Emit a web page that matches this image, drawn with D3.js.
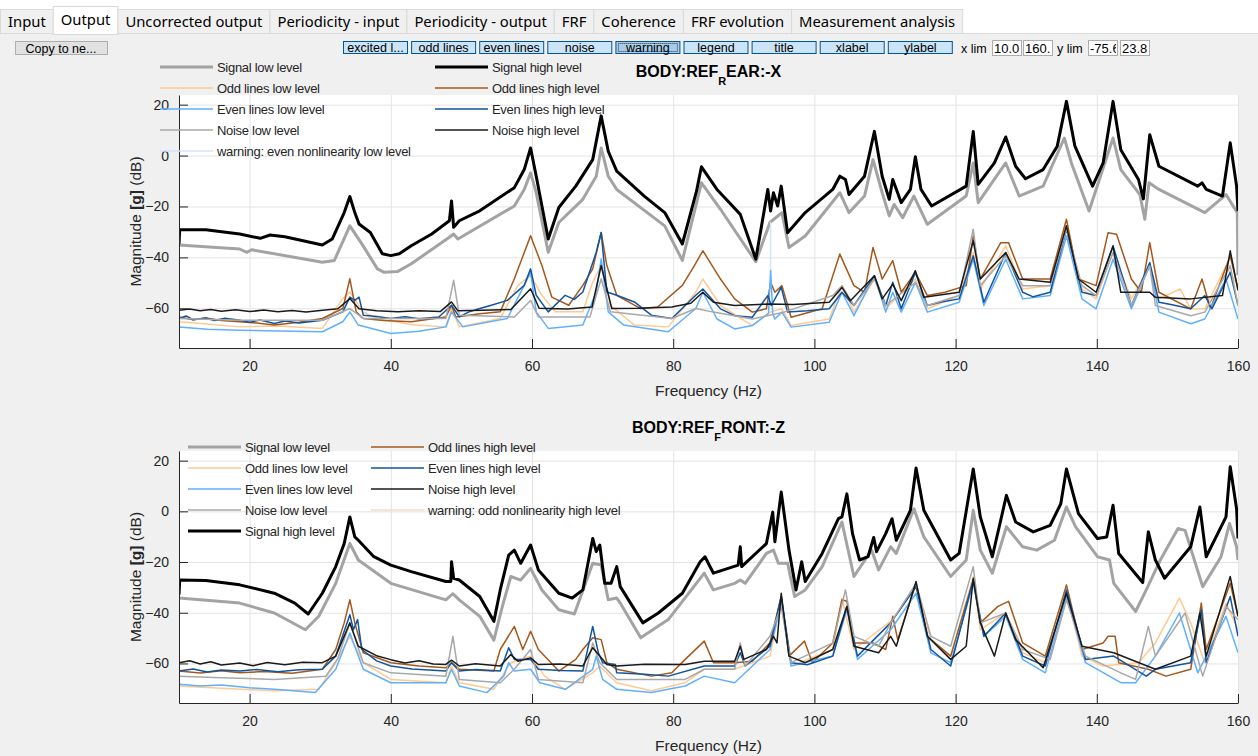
<!DOCTYPE html>
<html>
<head>
<meta charset="utf-8">
<script src="https://cdn.jsdelivr.net/npm/d3@7"></script>
<style>
  body { margin: 0; background: #f0f0f0; }
  svg text { font-family: 'Liberation Sans', Arial, Helvetica, sans-serif; }
</style>
</head>
<body>
<script>
// ---------- data ----------
const tabNames = ['Input', 'Output', 'Uncorrected output', 'Periodicity - input', 'Periodicity - output',
  'FRF', 'Coherence', 'FRF evolution', 'Measurement analysis'];
const toggleLabels = ['excited l...', 'odd lines', 'even lines', 'noise', 'warning', 'legend', 'title', 'xlabel', 'ylabel'];
const limLabels = ['10.0', '160.', '-75.6', '23.8'];
const freqTicks = [20, 40, 60, 80, 100, 120, 140, 160];
const magTicks = [-60, -40, -20, 0, 20];
const freqRange = [10, 160];
const magRange = [-75.6, 23.8];

// BODY:REF_REAR:-X  (frequency Hz, magnitude dB)
const rearSignalLow = [[10,-35.1],[18.6,-36.7],[19.6,-38.0],[20.3,-37.0],[30.3,-41.9],[32.0,-41.2],[34.2,-27.6],[35.9,-34.7],[38.1,-44.5],[39.0,-45.8],[41.0,-45.5],[42.9,-42.5],[48.3,-32.1],[48.9,-30.8],[49.5,-32.8],[57.5,-19.8],[58.9,-13.3],[59.8,-6.8],[60.6,-14.6],[62.3,-38.0],[63.8,-26.3],[67.2,-17.2],[69.1,-8.1],[69.8,3.0],[70.8,-8.1],[72.0,-13.3],[78.8,-27.6],[81.3,-41.2],[84.0,-10.7],[86.7,-21.1],[91.7,-41.7],[93.7,-26.3],[95.4,-22.4],[96.4,-36.1],[98.7,-31.6],[103.6,-14.6],[104.9,-22.4],[107.1,-15.9],[108.3,-1.6],[109.6,-14.6],[110.6,-23.7],[111.3,-19.2],[112.5,-24.4],[114.1,-15.9],[116.0,-27.0],[121.5,-15.9],[122.5,-2.9],[123.2,-18.5],[127.1,-2.9],[129.0,-15.9],[132.4,-12.0],[135.4,6.9],[136.4,-2.9],[138.9,-21.8],[142.3,6.9],[143.4,-5.5],[146.1,-15.3],[146.8,-25.0],[147.4,-10.7],[148.8,-13.3],[155.3,-22.4],[158.3,-15.3],[159.9,-22.4],[160,-47]];
const rearSignalHigh = [[10,-34.7],[10.1,-29.1],[13.8,-29.1],[18.6,-30.8],[21.5,-32.5],[22.9,-31.2],[25,-31.9],[30.3,-35.1],[31.7,-32.8],[33.4,-22.4],[34.2,-16.1],[34.9,-22.4],[35.5,-26.9],[37.1,-30.2],[38.8,-38.6],[40,-39.3],[41.2,-38.6],[42.9,-35.4],[45.8,-30.8],[48.3,-25.6],[48.6,-17.8],[48.9,-28.2],[49.7,-25.6],[52.6,-21.7],[57.5,-12.6],[58.9,-5.5],[59.8,3.0],[60.6,-8.1],[62.3,-32.8],[63.8,-20.4],[66.2,-12.0],[68.6,-1.6],[69.8,15.6],[70.8,1.7],[72.0,-6.1],[75.9,-15.9],[78.8,-22.4],[81.3,-34.7],[83.3,-14],[84.0,-4.4],[86.2,-13.3],[88.2,-19.2],[89.5,-23.1],[91.7,-40.7],[93.4,-13.3],[93.8,-21.8],[94.2,-14.6],[94.8,-19.8],[95.3,-12.0],[96.2,-30.3],[98.7,-22.4],[102.6,-13.3],[103.6,-8.1],[104.4,-9.4],[104.9,-15.3],[107.1,-8.1],[108.5,9.5],[109.6,-8.1],[110.6,-17.2],[111.1,-9.4],[112.3,-18.5],[113.6,-13.3],[114.3,-0.5],[115.1,-13.3],[116.6,-19.8],[121.5,-12.0],[122.5,9.5],[123.2,-11.3],[125.5,-2.9],[127.1,7.3],[128.5,-4.2],[129.9,-9.1],[132.4,-5.5],[134.4,3.7],[135.7,21.3],[136.9,3.7],[139.4,-12.0],[140.9,-2.9],[142.3,21.3],[143.4,2.3],[145.9,-9.4],[146.6,-17.0],[147.5,8.2],[148.8,-4.2],[154.3,-12.0],[154.9,-10.7],[155.5,-13.3],[157.8,-15.9],[158.9,5.0],[159.8,-12.0],[160,-21.8]];
const rearOddLow = [[10,-65.3],[14,-66.2],[18.6,-67.3],[24,-67.0],[30.3,-67.9],[33.2,-56.2],[34.2,-53.6],[36.1,-61.4],[38.1,-64],[43,-66.5],[47.8,-67.3],[48.6,-60.1],[49.7,-67.3],[55.5,-64],[58,-51],[59.8,-47.1],[61.4,-54.9],[63.3,-61.4],[67.2,-61.4],[68.6,-49.7],[69.8,-43.2],[71.1,-58.8],[74.5,-66.6],[79.3,-67.3],[83.2,-53.6],[84.2,-48.5],[86.7,-58.9],[91.2,-66.8],[93.7,-61.5],[95.4,-60.2],[96.7,-66.8],[102.1,-64.2],[103.9,-51.1],[105.6,-61.5],[108.5,-48.5],[110.1,-60.2],[114.3,-48.5],[116.0,-60.2],[120.5,-55],[122.5,-38.1],[123.5,-52.4],[127.1,-35.5],[129.5,-52.4],[133.4,-51.1],[135.7,-27.6],[137.9,-52.4],[139.9,-56.3],[142.3,-38.1],[144.9,-56.3],[147.5,-43.3],[148.8,-56.3],[151.8,-52.4],[153.3,-60.2],[155.3,-60.2],[158.3,-43.3],[160,-51.1]];
const rearOddHigh = [[10,-63.4],[12,-64.5],[13.8,-63.8],[16,-64.8],[18.6,-65.3],[21,-65.8],[23.5,-66.6],[27,-65.5],[30.3,-64],[33.2,-60.1],[34.2,-48.4],[35.1,-61.4],[36.1,-64],[39,-64.8],[42.9,-65.3],[47.8,-63.4],[48.6,-58.8],[49.2,-63.4],[52.6,-62.1],[55.5,-61.4],[57.5,-48.4],[59.8,-31.5],[61.4,-43.2],[62.8,-55.6],[65.2,-58.8],[67.2,-51],[68.6,-44.5],[69.8,-30.2],[70.6,-43.2],[72.0,-54.9],[75.4,-60.1],[77.8,-59.5],[81.3,-51],[83.0,-43.2],[84.2,-37.4],[86.7,-48.5],[88.7,-56.3],[91.2,-61.5],[93.2,-60.2],[93.8,-49.8],[94.4,-53.7],[95.4,-51.1],[96.7,-63.5],[101.1,-60.2],[103.6,-38.7],[105.6,-51.1],[107.1,-53.7],[108.3,-36.1],[109.6,-48.5],[111.1,-41.3],[112.3,-53.7],[114.3,-45.9],[116.0,-55],[118.5,-53.7],[121.5,-51.1],[122.5,-31.6],[123.5,-48.5],[126.4,-34.2],[127.5,-34.2],[129.5,-48.5],[133.4,-48.5],[135.7,-25.0],[137.4,-48.5],[139.9,-51.1],[141.6,-30.3],[142.8,-30.9],[144.9,-48.5],[146.3,-53.7],[147.5,-34.2],[148.8,-53.7],[153.3,-60.2],[154.9,-48.5],[156.1,-60.2],[158.9,-39.4],[160,-52.4]];
const rearEvenLow = [[10,-67.3],[14,-68.2],[18.6,-68.6],[24,-68.9],[30.3,-69.2],[33.2,-65.3],[34.2,-61.4],[35.4,-66.6],[40,-69.9],[44,-69.0],[47.8,-67.3],[48.6,-61.4],[50.2,-67.3],[56.5,-64],[58.9,-51],[59.8,-45.8],[60.6,-61.4],[62.3,-67.9],[67.2,-66.6],[69.1,-53.6],[69.8,-40.6],[70.8,-61.4],[73,-66.6],[79.3,-69.2],[83.2,-60.1],[84.2,-53.7],[86.2,-64.2],[88.7,-68.1],[91.2,-66.8],[93.5,-62],[93.8,-45],[94.1,-62],[94.4,-64.2],[95.4,-61.5],[96.7,-67.4],[102.1,-65.5],[103.9,-53.7],[105.6,-62.9],[108.5,-47.2],[110.1,-61.5],[111.1,-53.7],[112.3,-61.5],[114.3,-49.8],[116.0,-61.5],[120.5,-57.6],[122.5,-40.7],[124,-58.9],[127.1,-40.7],[129.5,-56.3],[133.4,-55],[135.7,-31.6],[137.9,-56.3],[139.9,-60.2],[142.3,-40.7],[144.9,-60.2],[147.5,-43.3],[148.8,-61.5],[153.3,-66.1],[155.3,-64.2],[158.3,-48.5],[160,-64.2]];
const rearEvenHigh = [[10,-64],[11,-63],[12,-64.5],[13.8,-63.8],[15,-64.8],[16.5,-63.9],[18.6,-64.7],[20,-65.5],[21.5,-64.6],[23.5,-66],[25,-65],[27,-65.8],[30.3,-64.7],[33.2,-61.4],[34.2,-55.6],[34.9,-56.9],[35.5,-55.6],[36.1,-62.7],[38,-63.2],[40,-64],[42,-63.3],[44,-64.1],[46.8,-63.4],[48.6,-58.8],[49.7,-63.4],[51,-61.5],[52.6,-60.1],[54,-59.0],[56.5,-56.9],[58.9,-51],[59.8,-44.5],[60.6,-54.9],[62.3,-61.4],[64.7,-54.9],[66,-56.5],[67.2,-53.6],[69.1,-38],[69.8,-30.2],[70.6,-53.6],[72,-54.9],[74.5,-57.5],[76.9,-62.7],[79.8,-64],[83.2,-54.9],[84.2,-52.4],[86.7,-60.2],[88.7,-62.9],[91.2,-63.5],[93.4,-55],[93.9,-58.9],[95.3,-51.8],[96.2,-61.5],[99,-61],[102.1,-60.2],[103.9,-53.7],[105.6,-58.9],[108.5,-47.2],[110.1,-58.9],[111.1,-49.8],[112.3,-60.2],[114.3,-45.9],[116.0,-58.9],[118,-57.5],[120.5,-56.3],[122.5,-39.4],[124,-57.6],[127.1,-38.1],[129.5,-53.7],[131,-55.5],[133.4,-53.7],[135.7,-28.9],[137.9,-53.7],[139.9,-55],[142.3,-35.5],[144.9,-58.9],[147.5,-42],[148.8,-57.6],[150.5,-58.5],[153.3,-60.2],[155.3,-55],[156.3,-60.2],[158.9,-45.9],[160,-58.9]];
const rearNoiseLow = [[10,-64],[18.6,-64.7],[30.3,-64.7],[34.2,-60.1],[36.1,-64],[47.8,-64],[48.9,-49],[49.7,-62.7],[57.5,-63.4],[59.8,-56.9],[60.9,-63.4],[68.2,-63.4],[69.8,-48.4],[71.1,-61.4],[79.8,-64],[83.2,-60.1],[85.7,-61.5],[91.2,-64.2],[95.7,-61.5],[102.6,-55],[103.9,-51.1],[105.6,-58.9],[108.5,-48.5],[110.1,-58.9],[114.3,-49.8],[116.0,-58.9],[120.5,-55],[122.5,-28.9],[123.5,-51.1],[127.1,-39.4],[129.5,-51.1],[133.4,-51.1],[135.7,-28.9],[137.9,-51.1],[139.9,-55],[142.3,-38.1],[144.9,-58.9],[147.5,-43.3],[148.3,-58.9],[153.3,-62.9],[155.3,-61.5],[158.9,-43.3],[160,-58.9]];
const rearNoiseHigh = [[10,-60.8],[11.5,-60.3],[13,-61],[14.5,-60.5],[16,-61.2],[18,-60.6],[20,-61.3],[22,-60.7],[24,-61.4],[26,-60.9],[28,-61.5],[30,-60.9],[32.5,-60.2],[34.2,-56.2],[35.5,-60.2],[38,-61],[41,-61.4],[44,-61],[47,-61.3],[48.6,-57.5],[49.5,-61],[53,-60.8],[57,-60.5],[59.8,-52.3],[61,-60],[65,-60.3],[68.5,-59.5],[69.8,-43.2],[71.3,-60.1],[75,-60],[79.8,-59.5],[82.5,-58],[84.2,-53.7],[85.7,-57.6],[88.7,-58.9],[93.7,-58.3],[97,-58.5],[102.1,-57.6],[103.9,-51.8],[105.1,-57],[108.5,-47.2],[109.6,-56.3],[111.1,-50.5],[112.3,-57],[114.3,-45.2],[115.5,-55.7],[120.5,-53.7],[122.5,-33.5],[123.5,-48.5],[127.1,-38.1],[129.0,-48.5],[133.4,-49.8],[135.7,-27.6],[137.4,-48.5],[139.9,-53.7],[142.3,-35.5],[143.4,-53.7],[147.5,-53.7],[148.3,-55.7],[153.3,-56.3],[157.8,-55],[158.9,-37.4],[160,-53]];
const rearWarningEvenLow = [[93.8,-45],[93.8,-26]];

// BODY:REF_FRONT:-Z
const frontSignalLow = [[10,-34.2],[18.6,-36.2],[23.5,-40.1],[27.9,-46.7],[29.8,-41.4],[32.2,-28.4],[34.2,-12.7],[35.4,-19.2],[40,-28.4],[47.8,-34.9],[48.8,-32.5],[49.7,-34.9],[52.6,-41.4],[54.6,-50.8],[55.8,-37.5],[57,-25.7],[58.4,-27.1],[59.8,-22.5],[61.4,-31],[63.8,-38.8],[66,-40.5],[68.6,-20.5],[69.8,-21.2],[70.8,-34.9],[72,-34.2],[72.5,-36.2],[75.4,-49.9],[79.3,-42.7],[84.4,-24.4],[85.7,-31],[88.7,-28.4],[89.5,-27.1],[90.2,-28.4],[93.2,-16.6],[94.2,-15.3],[94.9,-20.5],[96.2,-20.5],[97.2,-33.6],[98.7,-31],[101.1,-21.8],[103.9,-4.2],[105.6,-25.7],[108.1,-15.3],[109.1,-23.1],[110.8,-14],[111.6,-16.6],[114.1,1.0],[115.5,-10.1],[119.3,-25.7],[121.5,-19.2],[122.5,0.4],[123.5,-15.3],[125.2,-24.4],[127.2,-6.1],[129.5,-14],[131.5,-15.3],[134,-11.4],[135.7,1.7],[137,-6.1],[140.1,-17.9],[141.8,-19.2],[142.4,-28.4],[145.5,-39.5],[147,-31],[149,-19.2],[151.5,-6.8],[152.5,-7.5],[155,-29.7],[157.6,-17.9],[158.8,-4.8],[159.8,-14],[160,-19.2]];
const frontSignalHigh = [[10,-32.9],[10.1,-27.1],[13.8,-27.3],[18.6,-29],[23.5,-32.3],[26.4,-36.2],[28.3,-40.5],[30.3,-32.3],[32.2,-21.8],[33.4,-12.7],[34.2,-2.2],[34.9,-10.1],[35.4,-11.4],[37.6,-17.9],[40,-21.2],[42.9,-23.8],[47.8,-27.7],[48.5,-27.7],[48.6,-19.9],[48.9,-26.4],[49.7,-27.1],[52.6,-33.6],[54.6,-43.4],[55.5,-31],[56.7,-17.3],[57.5,-15.3],[58.4,-20.5],[59.8,-13.3],[60.9,-23.1],[63.8,-32.3],[65.7,-34.2],[67.2,-31],[68.6,-10.7],[69.1,-15.9],[69.6,-13.3],[70.3,-28.4],[71.2,-28.4],[72,-21.8],[72.5,-29.7],[75.7,-44],[77.9,-40.1],[81.3,-32.3],[83.8,-20],[84.5,-17.9],[85.7,-24.4],[89.2,-21.2],[89.5,-14],[89.7,-21.8],[93.2,-12.7],[94.1,-0.3],[94.4,-12],[95.3,7.6],[96.4,-15.3],[97.4,-31],[98.2,-19.9],[98.7,-27.7],[101.1,-16.6],[103.4,-2.9],[103.9,-2.2],[104.6,6.9],[105.4,-8.8],[106.4,-19.2],[107.6,-17.9],[108.4,-10.3],[108.8,-15.9],[110.1,-8.8],[111,-2.9],[111.6,-11.4],[113.6,0.4],[114.4,17.1],[115.5,0.4],[119.3,-19.2],[120.5,-16.6],[122.5,16.7],[123.5,-2.2],[125.2,-17.9],[127.2,6.3],[128.5,-4.2],[131,-8.1],[133.4,-5.5],[134.9,3.0],[135.7,16.7],[137.4,-0.9],[140.1,-10.7],[141.4,-10.1],[142.3,2.4],[143.1,-16.6],[146.5,-28.1],[147.3,-8.1],[148.3,-19.2],[149.6,-26.4],[153.3,-14],[154.6,1.7],[155.5,-17.9],[158.3,-2.2],[158.9,17.6],[159.8,1.0],[160,-10.7]];
const frontOddLow = [[10,-68.9],[16,-69.8],[23.5,-70.8],[29.8,-70.2],[32.2,-59.7],[34.2,-49.3],[36.1,-59.7],[40,-66.3],[47.8,-67.6],[48.6,-61],[49.7,-67.6],[54.6,-70.2],[57,-59.7],[59.8,-57.1],[61.8,-65],[64.7,-70.2],[68.6,-63.7],[69.6,-61],[72,-67.6],[76.9,-70.8],[81.7,-67.6],[84.4,-62.3],[88.7,-62.3],[93.7,-57.1],[95.3,-34.9],[96.7,-61],[102.6,-54.5],[103.9,-34.2],[105.6,-54.5],[111.1,-42.7],[114.4,-29.7],[116.5,-50.6],[119.3,-57.1],[122.5,-25.7],[123.5,-46.7],[127.1,-40.1],[129.5,-55.8],[132.7,-59.7],[135.7,-32.3],[137.9,-57.1],[140.9,-61],[145.9,-59.7],[148.3,-51.9],[151.7,-34.2],[153.3,-44],[155.3,-59.7],[158.3,-36.2],[160,-46.7]];
const frontOddHigh = [[10,-63],[13,-63.8],[16,-62.9],[18.6,-63.7],[22,-63.2],[26,-63.9],[30.3,-62.3],[32.2,-54.5],[33.4,-44],[34.2,-34.9],[34.9,-44],[36.1,-55.8],[40,-59.7],[44,-61],[47.8,-61.7],[48.6,-59.7],[49.7,-62.3],[54.6,-63],[55.5,-54.5],[57.5,-45.4],[58.7,-54.5],[59.8,-47.3],[60.9,-54.5],[63.8,-63],[66.2,-58.4],[67.2,-54.5],[68.6,-49.9],[69.8,-50.6],[70.6,-59.7],[72,-62.3],[76.9,-65],[79.8,-63.7],[81.7,-58.4],[84.4,-51.2],[85.7,-59.7],[88.7,-59.7],[91.2,-59.1],[93.7,-51.9],[95.3,-33.6],[96.4,-57.1],[98.6,-51.2],[99.7,-59.7],[102.6,-51.9],[103.9,-34.9],[104.6,-35.5],[105.6,-51.9],[108.3,-51.9],[110.1,-54.5],[111.1,-41.4],[111.8,-50.6],[114.4,-28.4],[116,-49.3],[119.3,-57.1],[122.5,-27.1],[123.5,-44],[126,-37.5],[127.5,-35.5],[129.5,-51.9],[132.7,-57.1],[135.7,-29],[137.9,-54.5],[140.9,-51.9],[141.6,-49.3],[142.6,-49.3],[143.1,-59.7],[147.3,-62.3],[149.8,-65],[153.3,-62.3],[154.8,-36.2],[155.5,-54.5],[158.9,-28.4],[160,-41.4]];
const frontEvenLow = [[10,-68.2],[13,-68.9],[16,-68.5],[20,-69.6],[23.5,-70.2],[29.3,-71.5],[32.2,-62.3],[34.2,-48],[36.1,-62.3],[40,-67.6],[47.8,-67.6],[48.6,-62.3],[49.7,-68.9],[53.6,-71.5],[56,-65],[56.7,-59.7],[57.5,-63],[59.8,-62.3],[61.1,-67.6],[64.7,-70.2],[68.6,-62.3],[69.1,-57.1],[70,-66.3],[72,-70.2],[76.9,-71.5],[81.7,-68.9],[84.4,-65],[88.7,-67.6],[93.7,-54.5],[95.3,-36.2],[96.7,-61],[102.6,-57.1],[104.6,-38.8],[106.1,-58.4],[110.8,-46.7],[114.4,-32.3],[116.5,-55.8],[119.3,-59.7],[122.5,-28.4],[124,-49.3],[127.1,-41.4],[129.5,-58.4],[132.7,-63.7],[135.7,-33.6],[138.4,-59.7],[143.4,-67.6],[145.5,-67.6],[148.3,-57.1],[151.7,-40.1],[154.3,-63.7],[158.3,-41.4],[160,-55.8]];
const frontEvenHigh = [[10,-63],[12,-62.2],[14,-63.4],[16,-62.6],[18.6,-63],[21,-62.4],[24,-63.3],[27,-62.5],[30.3,-62.3],[32.2,-57.1],[34.2,-40.8],[34.7,-46.7],[35.3,-42.7],[35.9,-54.5],[38,-59],[40,-61],[43,-62.2],[47.8,-63],[48.6,-59.7],[49.7,-63],[52,-62.4],[55.5,-63],[56.7,-53.8],[57.5,-58.4],[59.8,-58.4],[60.9,-62.3],[64,-62.8],[67.2,-63],[68.6,-45.4],[69.4,-55.8],[70,-59.7],[71.8,-60.4],[72,-63.7],[76,-64.3],[79.3,-65],[84.4,-61],[88.7,-61],[89.5,-55.8],[90.2,-61],[93.7,-53.2],[95.3,-33.6],[96.7,-59.7],[99,-60.5],[102.6,-57.1],[104.6,-37.5],[106.1,-57.1],[110.8,-44],[114.4,-29.7],[116.5,-54.5],[119.3,-61],[122.5,-27.1],[124,-49.3],[127.1,-40.1],[129.5,-57.1],[132.7,-61],[135.7,-31],[138.4,-58.4],[142.4,-57.1],[147,-65],[148.3,-62.3],[153.3,-59.7],[154.8,-38.8],[155.5,-59.7],[158.9,-33.6],[160,-49.3]];
const frontNoiseLow = [[10,-65],[16,-65.6],[23.5,-66.3],[30.8,-65],[32.5,-58],[34.2,-44],[36.1,-59.7],[40,-63.7],[47.8,-65],[48.8,-49.3],[49.7,-66.3],[55.5,-67.6],[57.5,-62.3],[59.8,-54.5],[60.9,-66.3],[67.2,-67.6],[68.6,-51.9],[69.6,-59.7],[72,-66.3],[81.7,-66.3],[84.4,-62.3],[88.7,-62.3],[89.5,-51.9],[90.2,-61],[93.7,-49.3],[95.3,-37.5],[96.7,-59.7],[102.6,-51.9],[104.4,-31],[105.6,-49.3],[109.1,-53.2],[110.8,-44],[114.4,-28.4],[116.5,-49.3],[119.3,-53.2],[122.5,-21.8],[123.5,-44],[127.1,-40.1],[129.5,-54.5],[133.4,-58.4],[135.7,-34.9],[138.4,-57.1],[143.4,-63.7],[145.5,-66.3],[147.3,-45.4],[148.3,-57.1],[152.5,-40.1],[155,-65],[158.3,-37.5],[160,-42.7]];
const frontNoiseHigh = [[10,-59.7],[11.5,-58.9],[13,-60.2],[14.5,-59.3],[16,-60.6],[18.6,-59.8],[20.5,-60.9],[22.5,-59.6],[25,-60.5],[27.5,-59.5],[30.3,-59.7],[32.2,-57.1],[34.2,-44],[35.4,-53.2],[38.1,-57.1],[40,-58.5],[42,-59.8],[44,-58.9],[46,-60.2],[47.8,-60.4],[48.6,-58.7],[49.7,-61],[52,-60.1],[55.5,-61],[57,-56.5],[58,-59.1],[59.8,-57.8],[60.9,-60.4],[64,-60.2],[67.2,-61],[68.6,-53.8],[69.6,-57.1],[70.6,-60.4],[72,-61],[76,-60.3],[81.7,-60.4],[84.4,-59.1],[88.7,-59.1],[89.5,-53.2],[90,-58.4],[93.2,-54.5],[94.2,-49.3],[94.7,-51.9],[95.3,-32.3],[96.4,-57.1],[98.7,-59.7],[102.6,-54.5],[104.6,-37.5],[105.6,-53.2],[109.1,-55.8],[110.8,-49.3],[111.6,-53.2],[114.4,-27.7],[116,-49.3],[119.3,-58.4],[121.5,-53.2],[122.5,-26.4],[123.5,-44],[125.5,-57.1],[127.1,-40.1],[128.5,-50.6],[132.4,-61.7],[135.7,-32.3],[137.9,-53.2],[142.4,-55.8],[148.3,-62.3],[153.3,-57.1],[154.6,-40.1],[155.5,-57.1],[158.9,-25.7],[160,-41.4]];
const frontWarningOddHigh = [];

// ---------- styles ----------
const seriesStyle = {
  signalLow:   { color: '#a3a3a3', width: 3,   label: 'Signal low level' },
  signalHigh:  { color: '#000000', width: 3,   label: 'Signal high level' },
  oddLow:      { color: '#ffc992', width: 1.5, label: 'Odd lines low level' },
  oddHigh:     { color: '#a5581c', width: 1.5, label: 'Odd lines high level' },
  evenLow:     { color: '#5fb0ff', width: 1.5, label: 'Even lines low level' },
  evenHigh:    { color: '#11559f', width: 1.5, label: 'Even lines high level' },
  noiseLow:    { color: '#a8a8a8', width: 1.5, label: 'Noise low level' },
  noiseHigh:   { color: '#1a1a1a', width: 1.5, label: 'Noise high level' },
  warnEven:    { color: '#cfe6ff', width: 1.5, label: 'warning: even nonlinearity low level' },
  warnOdd:     { color: '#f1dccb', width: 1.5, label: 'warning: odd nonlinearity high level' }
};
const drawOrder = ['signalLow', 'signalHigh', 'oddLow', 'oddHigh', 'evenLow', 'evenHigh', 'noiseLow', 'noiseHigh', 'warnEven', 'warnOdd'];

const panels = [
  {
    title: ['BODY:REF', 'R', 'EAR:-X'], top: 95, bottom: 348,
    data: { signalLow: rearSignalLow, signalHigh: rearSignalHigh, oddLow: rearOddLow, oddHigh: rearOddHigh,
      evenLow: rearEvenLow, evenHigh: rearEvenHigh, noiseLow: rearNoiseLow, noiseHigh: rearNoiseHigh, warnEven: rearWarningEvenLow },
    legendCols: [['signalLow', 'oddLow', 'evenLow', 'noiseLow', 'warnEven'], ['signalHigh', 'oddHigh', 'evenHigh', 'noiseHigh']],
    legendX: [160, 435], legendY: 67
  },
  {
    title: ['BODY:REF', 'F', 'RONT:-Z'], top: 451, bottom: 703,
    data: { signalLow: frontSignalLow, signalHigh: frontSignalHigh, oddLow: frontOddLow, oddHigh: frontOddHigh,
      evenLow: frontEvenLow, evenHigh: frontEvenHigh, noiseLow: frontNoiseLow, noiseHigh: frontNoiseHigh, warnOdd: frontWarningOddHigh },
    legendCols: [['signalLow', 'oddLow', 'evenLow', 'noiseLow', 'signalHigh'], ['oddHigh', 'evenHigh', 'noiseHigh', 'warnOdd']],
    legendX: [188, 371], legendY: 447
  }
];

// ---------- figure ----------
const W = 1258, H = 756;
const axLeft = 179, axRight = 1238;
const svg = d3.select('body').append('svg').attr('width', W).attr('height', H);

svg.append('rect').attr('width', W).attr('height', H).attr('fill', '#f0f0f0');

// tab strip
svg.append('rect').attr('width', W).attr('height', 33).attr('fill', '#ffffff');
svg.append('line').attr('x1', 0).attr('x2', W).attr('y1', 33.5).attr('y2', 33.5).attr('stroke', '#d9d9d9');
let tabX = 0;
tabNames.forEach((name, i) => {
  const g = svg.append('g');
  const t = g.append('text').text(name)
    .attr('y', 26).style('font-family', "'Noto Sans', 'Open Sans', sans-serif").style('font-size', '14.8px').attr('fill', '#000');
  const tw = t.node().getComputedTextLength();
  const w = tw + 15;
  const sel = i === 1;
  g.insert('rect', 'text')
    .attr('x', tabX + 0.5).attr('y', sel ? 6.5 : 9.5)
    .attr('width', w).attr('height', sel ? 28 : 24)
    .attr('fill', sel ? '#ffffff' : '#f0f0f0').attr('stroke', '#d9d9d9');
  t.attr('x', tabX + 7.5 + 0.5).attr('y', sel ? 25 : 27);
  tabX += w;
});

// copy button
svg.append('rect').attr('x', 15.5).attr('y', 41.5).attr('width', 92).attr('height', 13)
  .attr('fill', '#e1e1e1').attr('stroke', '#adadad');
svg.append('text').text('Copy to ne...').attr('x', 61).attr('y', 52.5).attr('text-anchor', 'middle')
  .style('font-size', '12.5px').attr('fill', '#000');

// toggle buttons
toggleLabels.forEach((lab, i) => {
  const x = 343 + i * 68.1;
  const pressed = lab === 'warning';
  svg.append('rect').attr('x', x + 0.5).attr('y', 41.5).attr('width', 64).attr('height', 12)
    .attr('fill', pressed ? '#a9cbe8' : '#cce4f7').attr('stroke', '#005499');
  if (pressed) {
    svg.append('rect').attr('x', x + 3).attr('y', 43.5).attr('width', 59).attr('height', 8)
      .attr('fill', 'none').attr('stroke', '#333').attr('stroke-dasharray', '1,1');
  }
  svg.append('text').text(lab).attr('x', x + 32.5).attr('y', 52).attr('text-anchor', 'middle')
    .style('font-size', '12.5px').attr('fill', '#000');
});

// limit boxes
svg.append('text').text('x lim').attr('x', 961).attr('y', 53).style('font-size', '12.5px').attr('fill', '#000');
svg.append('text').text('y lim').attr('x', 1057).attr('y', 53).style('font-size', '12.5px').attr('fill', '#000');
const limX = [992, 1023, 1088, 1120];
limLabels.forEach((lab, i) => {
  svg.append('rect').attr('x', limX[i] + 0.5).attr('y', 40.5).attr('width', 29).attr('height', 15)
    .attr('fill', '#ffffff').attr('stroke', '#adadad');
  svg.append('clipPath').attr('id', 'lim' + i).append('rect')
    .attr('x', limX[i] + 1).attr('y', 41).attr('width', 27).attr('height', 14);
  svg.append('text').text(lab).attr('x', limX[i] + 2).attr('y', 52.5)
    .attr('clip-path', `url(#lim${i})`).style('font-size', '13px').attr('fill', '#000');
});

// ---------- axes ----------
const x = d3.scaleLinear().domain(freqRange).range([axLeft, axRight]);
const line = d3.line();

panels.forEach((p, pi) => {
  const y = d3.scaleLinear().domain(magRange).range([p.bottom, p.top]);
  const g = svg.append('g');

  g.append('rect').attr('x', axLeft).attr('y', p.top).attr('width', axRight - axLeft).attr('height', p.bottom - p.top)
    .attr('fill', '#ffffff');

  // grid
  g.append('g').attr('transform', `translate(0,${p.bottom})`)
    .call(d3.axisBottom(x).tickValues(freqTicks).tickSize(-(p.bottom - p.top)).tickFormat(''))
    .call(a => a.select('.domain').remove())
    .call(a => a.selectAll('line').attr('stroke', '#e3e3e3'));
  g.append('g').attr('transform', `translate(${axLeft},0)`)
    .call(d3.axisLeft(y).tickValues(magTicks).tickSize(-(axRight - axLeft)).tickFormat(''))
    .call(a => a.select('.domain').remove())
    .call(a => a.selectAll('line').attr('stroke', '#e3e3e3'));

  // series
  const clipId = 'clip' + pi;
  svg.append('clipPath').attr('id', clipId).append('rect')
    .attr('x', axLeft).attr('y', p.top).attr('width', axRight - axLeft).attr('height', p.bottom - p.top);
  const plot = g.append('g').attr('clip-path', `url(#${clipId})`);
  drawOrder.forEach(key => {
    const d = p.data[key];
    if (!d || d.length < 2) return;
    const s = seriesStyle[key];
    plot.append('path')
      .attr('d', line(d.map(v => [x(v[0]), y(v[1])])))
      .attr('fill', 'none').attr('stroke', s.color).attr('stroke-width', s.width)
      .attr('stroke-linejoin', 'round');
  });

  // axes with ticks pointing inward
  const xAxis = g.append('g').attr('transform', `translate(0,${p.bottom})`)
    .call(d3.axisBottom(x).tickValues(freqTicks).tickSizeInner(-9).tickSizeOuter(0).tickPadding(13));
  const yAxis = g.append('g').attr('transform', `translate(${axLeft},0)`)
    .call(d3.axisLeft(y).tickValues(magTicks).tickSizeInner(-9).tickSizeOuter(0).tickPadding(10));
  [xAxis, yAxis].forEach(a => {
    a.select('.domain').attr('stroke', '#262626');
    a.selectAll('.tick line').attr('stroke', '#262626');
    a.selectAll('.tick text').style('font-size', '14px').attr('fill', '#262626')
      .style('font-family', "'Liberation Sans', Arial, sans-serif");
  });

  // labels
  g.append('text').text('Frequency (Hz)').attr('x', (axLeft + axRight) / 2).attr('y', p.bottom + 48)
    .attr('text-anchor', 'middle').style('font-size', '15.5px').attr('fill', '#262626');
  const yl = g.append('text').attr('transform', `translate(141,${(p.top + p.bottom) / 2}) rotate(-90)`)
    .attr('text-anchor', 'middle').style('font-size', '15.5px').attr('fill', '#262626');
  yl.append('tspan').text('Magnitude ');
  yl.append('tspan').text('[g]').style('font-weight', 'bold');
  yl.append('tspan').text(' (dB)');

  const tt = g.append('text').attr('x', (axLeft + axRight) / 2).attr('y', p.top - 18)
    .attr('text-anchor', 'middle').style('font-size', '16px').style('font-weight', 'bold').attr('fill', '#000');
  tt.append('tspan').text(p.title[0]);
  tt.append('tspan').text(p.title[1]).attr('dy', 8).style('font-size', '11px');
  tt.append('tspan').text(p.title[2]).attr('dy', -8);

  // legend (no box)
  const lg = g.append('g');
  p.legendCols.forEach((col, ci) => {
    col.forEach((key, ri) => {
      const s = seriesStyle[key];
      const ly = p.legendY + ri * 21;
      const lx = p.legendX[ci];
      lg.append('line').attr('x1', lx).attr('x2', lx + 53).attr('y1', ly).attr('y2', ly)
        .attr('stroke', s.color).attr('stroke-width', s.width);
      lg.append('text').text(s.label).attr('x', lx + 57).attr('y', ly + 4.5)
        .style('font-size', '13px').style('letter-spacing', '-0.3px').attr('fill', '#262626');
    });
  });
});
</script>
</body>
</html>
